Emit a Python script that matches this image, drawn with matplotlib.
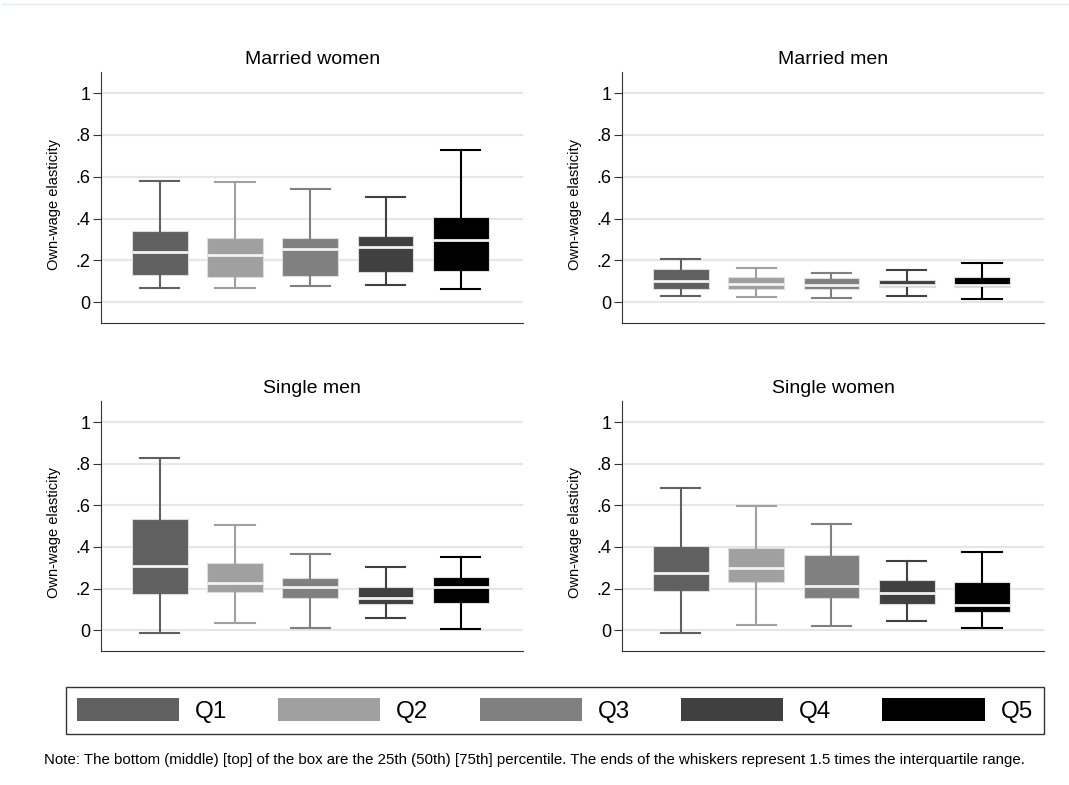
import matplotlib
matplotlib.use("Agg")
import matplotlib.pyplot as plt
from matplotlib.patches import Patch
from matplotlib.lines import Line2D

plt.rcParams['font.family'] = ['Liberation Sans', 'DejaVu Sans']

# quintile groups
groups = ['Q1', 'Q2', 'Q3', 'Q4', 'Q5']
colors = ['#606060', '#a0a0a0', '#808080', '#404040', '#000000']

# box stats: (whisker low, 25th, median, 75th, whisker high)
married_women = [(0.067, 0.132, 0.240, 0.342, 0.581),
                 (0.067, 0.119, 0.226, 0.309, 0.573),
                 (0.078, 0.126, 0.255, 0.309, 0.541),
                 (0.083, 0.143, 0.266, 0.318, 0.505),
                 (0.062, 0.151, 0.298, 0.406, 0.728)]
married_men = [(0.029, 0.064, 0.102, 0.158, 0.205),
               (0.025, 0.062, 0.086, 0.119, 0.161),
               (0.022, 0.064, 0.080, 0.115, 0.140),
               (0.029, 0.070, 0.080, 0.108, 0.154),
               (0.014, 0.072, 0.083, 0.119, 0.188)]
single_men = [(-0.015, 0.176, 0.307, 0.533, 0.829),
              (0.034, 0.184, 0.226, 0.325, 0.506),
              (0.010, 0.157, 0.210, 0.249, 0.367),
              (0.057, 0.128, 0.155, 0.207, 0.305),
              (0.005, 0.129, 0.207, 0.258, 0.351)]
single_women = [(-0.015, 0.187, 0.273, 0.404, 0.683),
                (0.024, 0.234, 0.300, 0.397, 0.596),
                (0.019, 0.155, 0.212, 0.362, 0.512),
                (0.042, 0.128, 0.178, 0.241, 0.333),
                (0.010, 0.086, 0.120, 0.233, 0.378)]

panels = [('Married women', married_women), ('Married men', married_men),
          ('Single men', single_men), ('Single women', single_women)]

yticks = [0, 0.2, 0.4, 0.6, 0.8, 1.0]
yticklabels = ['0', '.2', '.4', '.6', '.8', '1']

fig = plt.figure(figsize=(10.69, 7.85), dpi=100)

# faint rule along the top edge
fig.add_artist(Line2D([0.002, 1.0], [0.9945, 0.9945], color='#e4ecee', linewidth=1))

# axes rectangles [left, bottom, width, height]
rects = [[0.0945, 0.5885, 0.395, 0.3195], [0.582, 0.5885, 0.395, 0.3195],
         [0.0945, 0.1707, 0.395, 0.318], [0.582, 0.1707, 0.395, 0.318]]

for (title, data), rect in zip(panels, rects):
    ax = fig.add_axes(rect)
    for i, (lo, q1, med, q3, hi) in enumerate(data):
        stats = [dict(whislo=lo, q1=q1, med=med, q3=q3, whishi=hi, fliers=[])]
        ax.bxp(stats, positions=[i + 1], widths=0.74, patch_artist=True,
               showfliers=False,
               boxprops=dict(facecolor=colors[i], edgecolor='#dcdcdc', linewidth=0.8),
               medianprops=dict(color='#f2f2f2', linewidth=2),
               whiskerprops=dict(color=colors[i], linewidth=1.5),
               capprops=dict(color=colors[i], linewidth=1.5),
               capwidths=0.52, zorder=3)
    ax.set_xlim(0.22, 5.83)
    ax.set_ylim(-0.1, 1.1)
    ax.set_xticks([])
    ax.set_yticks(yticks)
    ax.set_yticklabels(yticklabels, fontsize=13)
    ax.grid(axis='y', color='#e6e6e6', linewidth=1.5, zorder=0)
    ax.set_axisbelow(True)
    ax.spines['top'].set_visible(False)
    ax.spines['right'].set_visible(False)
    ax.spines['left'].set_color('#333333')
    ax.spines['bottom'].set_color('#333333')
    ax.tick_params(axis='y', length=6, color='#333333', pad=1.5)
    ax.set_ylabel('Own-wage elasticity', fontsize=10.5)
    ax.yaxis.set_label_coords(-0.095, 0.474)
    ax.set_title(title, fontsize=14, pad=6)

handles = [Patch(facecolor=c, edgecolor='none') for c in colors]
leg = fig.legend(handles, groups, loc='center', bbox_to_anchor=(0.519, 0.095),
                 ncol=5, fontsize=17.5, frameon=True, fancybox=False,
                 handlelength=4.2, handleheight=1.1, columnspacing=2.1,
                 handletextpad=0.66, borderpad=0.45, borderaxespad=0)
leg.get_frame().set_edgecolor('black')
leg.get_frame().set_linewidth(1.0)

fig.text(0.5, 0.032, 'Note: The bottom (middle) [top] of the box are the 25th (50th) [75th] percentile. '
         'The ends of the whiskers represent 1.5 times the interquartile range.',
         ha='center', va='center', fontsize=10.8)

plt.savefig('out.png', dpi=100)
